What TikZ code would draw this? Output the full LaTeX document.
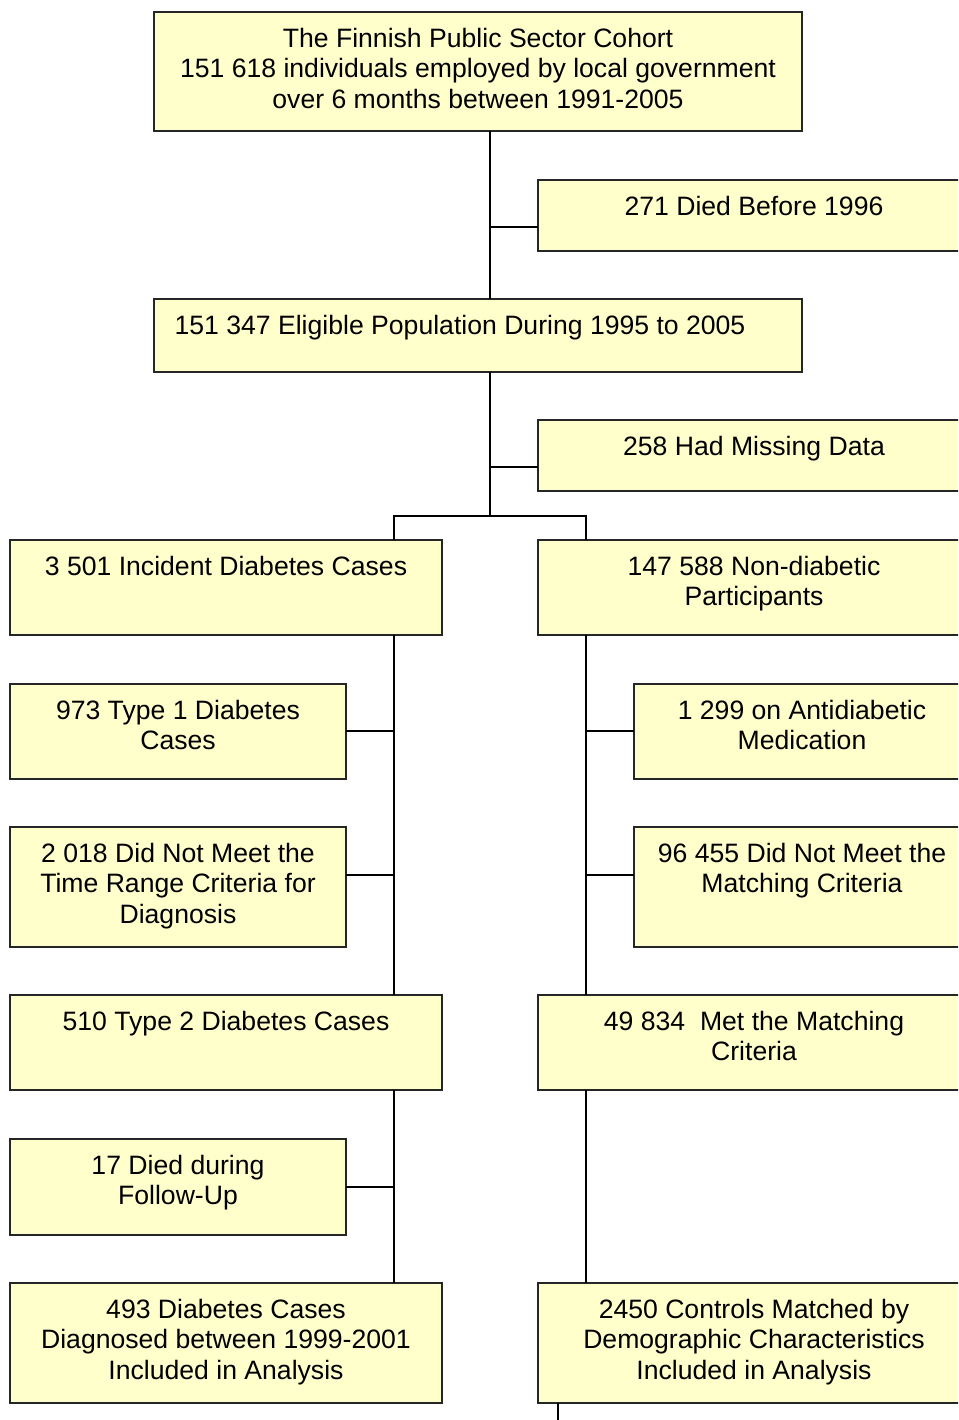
\documentclass[tikz,border=0pt]{standalone}
\usepackage{fontspec}
\setmainfont{Liberation Sans}
\definecolor{boxfill}{RGB}{255,255,204}

\tikzset{
  flowbox/.style={draw=black!85, fill=boxfill, line width=1.2pt, inner sep=0pt, outer sep=0pt},
  flowtext/.style={anchor=north, align=center, inner sep=0pt, font=\fontsize{26.6}{30.5}\selectfont},
  link/.style={line width=1.6pt}
}

\begin{document}
\begin{tikzpicture}[x=1pt, y=-1pt]
		\useasboundingbox (0,0) rectangle (958,1420);
		\clip (0,0) rectangle (958,1420);
		% boxes
		\node[flowbox, minimum width=648pt, minimum height=119pt] (cohort) at (478,71.5) {};
		\node[flowbox, minimum width=432pt, minimum height=71pt] (died) at (754,215.5) {};
		\node[flowbox, minimum width=648pt, minimum height=73pt] (elig) at (478,335.5) {};
		\node[flowbox, minimum width=432pt, minimum height=71pt] (missing) at (754,455.5) {};
		\node[flowbox, minimum width=432pt, minimum height=95pt] (cases) at (226,587.5) {};
		\node[flowbox, minimum width=432pt, minimum height=95pt] (nondiab) at (754,587.5) {};
		\node[flowbox, minimum width=336pt, minimum height=95pt] (typeone) at (178,731.5) {};
		\node[flowbox, minimum width=336pt, minimum height=120pt] (timerange) at (178,887) {};
		\node[flowbox, minimum width=336pt, minimum height=95pt] (medic) at (802,731.5) {};
		\node[flowbox, minimum width=336pt, minimum height=120pt] (nomatch) at (802,887) {};
		\node[flowbox, minimum width=432pt, minimum height=95pt] (typetwo) at (226,1042.5) {};
		\node[flowbox, minimum width=432pt, minimum height=95pt] (metmatch) at (754,1042.5) {};
		\node[flowbox, minimum width=336pt, minimum height=96pt] (fudied) at (178,1187) {};
		\node[flowbox, minimum width=432pt, minimum height=120pt] (included) at (226,1343) {};
		\node[flowbox, minimum width=432pt, minimum height=120pt] (controls) at (754,1343) {};

		% texts
		\node[flowtext] (cohort-t) at ([yshift=-16pt]cohort.north) {The Finnish Public Sector Cohort\\151 618 individuals employed by local government\\over 6 months between 1991-2005};
		\node[flowtext] (died-t) at ([yshift=-16pt]died.north) {271 Died Before 1996};
		\node[flowtext] (elig-t) at ([xshift=-18pt, yshift=-16pt]elig.north) {151 347 Eligible Population During 1995 to 2005};
		\node[flowtext] (missing-t) at ([yshift=-16pt]missing.north) {258 Had Missing Data};
		\node[flowtext] (cases-t) at ([yshift=-16pt]cases.north) {3 501 Incident Diabetes Cases};
		\node[flowtext] (nondiab-t) at ([yshift=-16pt]nondiab.north) {147 588 Non-diabetic\\Participants};
		\node[flowtext] (typeone-t) at ([yshift=-16pt]typeone.north) {973 Type 1 Diabetes\\Cases};
		\node[flowtext] (timerange-t) at ([yshift=-16pt]timerange.north) {2 018 Did Not Meet the\\Time Range Criteria for\\Diagnosis};
		\node[flowtext] (medic-t) at ([yshift=-16pt]medic.north) {1 299 on Antidiabetic\\Medication};
		\node[flowtext] (nomatch-t) at ([yshift=-16pt]nomatch.north) {96 455 Did Not Meet the\\Matching Criteria};
		\node[flowtext] (typetwo-t) at ([yshift=-16pt]typetwo.north) {510 Type 2 Diabetes Cases};
		\node[flowtext] (metmatch-t) at ([yshift=-16pt]metmatch.north) {49 834\ \ Met the Matching\\Criteria};
		\node[flowtext] (fudied-t) at ([yshift=-16pt]fudied.north) {17 Died during\\Follow-Up};
		\node[flowtext] (included-t) at ([yshift=-16pt]included.north) {493 Diabetes Cases\\Diagnosed between 1999-2001\\Included in Analysis};
		\node[flowtext] (controls-t) at ([yshift=-16pt]controls.north) {2450 Controls Matched by\\Demographic Characteristics\\Included in Analysis};

		% connectors
		\coordinate (fork) at (490,516);
		\coordinate (ltrunk) at (394,516);
		\coordinate (rtrunk) at (586,516);
		\coordinate (tick) at (558,1420);
		\draw[link] (cohort.south -| fork) -- (elig.north -| fork);
		\draw[link] (elig.south -| fork) -- (fork);
		\draw[link] (fork |- 0,227) -- (died.west |- 0,227);
		\draw[link] (fork |- 0,467) -- (missing.west |- 0,467);
		\draw[link] (cases.north -| ltrunk) -- (ltrunk) -- (rtrunk) -- (nondiab.north -| rtrunk);
		\draw[link] (cases.south -| ltrunk) -- (typetwo.north -| ltrunk);
		\draw[link] (typetwo.south -| ltrunk) -- (included.north -| ltrunk);
		\draw[link] (typeone.east |- 0,731) -- (ltrunk |- 0,731);
		\draw[link] (timerange.east |- 0,875) -- (ltrunk |- 0,875);
		\draw[link] (fudied.east) -- (fudied.east -| ltrunk);
		\draw[link] (nondiab.south -| rtrunk) -- (metmatch.north -| rtrunk);
		\draw[link] (metmatch.south -| rtrunk) -- (controls.north -| rtrunk);
		\draw[link] (medic.west |- 0,731) -- (rtrunk |- 0,731);
		\draw[link] (nomatch.west |- 0,875) -- (rtrunk |- 0,875);
		\draw[link] (controls.south -| tick) -- (tick);
	\end{tikzpicture}
\end{document}
